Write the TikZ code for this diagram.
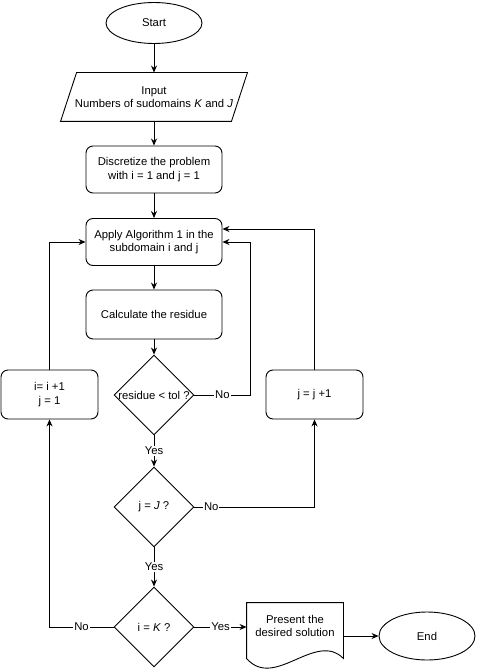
\documentclass[tikz,border=0pt]{standalone}
\usepackage{fontspec}
\setmainfont{Liberation Sans}
\usetikzlibrary{shapes.geometric,arrows.meta,calc}
\begin{document}
\begin{tikzpicture}[x={(1pt,0)},y={(0,-1pt)}, line width=0.9pt,
  font=\fontsize{11.3}{13.5}\selectfont,
  arr/.style={-{Stealth[length=7pt,width=6pt]}},
  box/.style={draw,rounded corners=7pt,minimum width=136pt,minimum height=47pt,align=center,inner sep=0pt},
  term/.style={draw,ellipse,minimum width=96pt,minimum height=41pt,inner sep=0pt},
  dia/.style={draw,diamond,minimum width=80pt,minimum height=80pt,inner sep=0pt},
  plain/.style={align=center,inner sep=0pt},
  lbl/.style={fill=white,inner sep=1pt}]
\useasboundingbox (0,0) rectangle (477,671);

\node[term] (start) at (154,23) {Start};
\node[plain,minimum width=186pt,minimum height=48pt] (inp) at (154,97) {Input\\Numbers of sudomains \textit{K} and \textit{J}};
\draw ($(inp.north west)+(16,0)$) -- (inp.north east) -- ($(inp.south east)+(-16,0)$) -- (inp.south west) -- cycle;
\node[box] (disc) at (154,169.5) {Discretize the problem\\with i = 1 and j = 1};
\node[box] (apply) at (154,242) {Apply Algorithm 1 in the\\subdomain i and j};
\node[box,minimum height=49pt] (calc) at (154,314.5) {Calculate the residue};
\node[dia] (res) at (154,395) {\makebox[0pt]{residue < tol ?}};
\node[dia] (jJ) at (154,507) {\makebox[0pt]{j = \textit{J} ?}};
\node[dia] (iK) at (154,627) {\makebox[0pt]{i = \textit{K} ?}};
\node[box,minimum width=97pt,minimum height=49pt] (ii) at (49.5,394.5) {i= i +1\\j = 1};
\node[box,minimum width=97pt,minimum height=49pt] (jj) at (314.5,394.5) {j = j +1};
\node[plain,minimum width=96pt,minimum height=46pt] (doc) at (295,626) {Present the\\desired solution};
\draw ($(doc.south west)+(0,9)$) -- (doc.north west) -- (doc.north east) -- ($(doc.south east)+(0,9)$)
  .. controls ($(doc.south east)+(-28,-19)$) and ($(doc.south west)+(28,41)$) .. ($(doc.south west)+(0,9)$) -- cycle;
\node[term,minimum height=48pt] (end) at (427,636) {End};

\draw[arr] (start.south) -- (inp.north);
\draw[arr] (inp.south) -- (disc.north);
\draw[arr] (disc.south) -- (apply.north);
\draw[arr] (apply.south) -- (calc.north);
\draw[arr] (calc.south) -- (res.north);
\draw[arr] (res.south) -- node[lbl]{Yes} (jJ.north);
\draw[arr] (jJ.south) -- node[lbl]{Yes} (iK.north);
\draw[arr] (res.east) -- node[lbl]{No} ++(56,0) |- (apply.east);
\draw[arr] (jJ.east) -| node[lbl,pos=0.07]{No} (jj.south);
\draw[arr] (iK.west) -| node[lbl,pos=0.25]{No} (ii.south);
\draw[arr] (ii.north) |- (apply.west);
\draw[arr] (jj.north) |- ([yshift=13pt]apply.east);
\draw[arr] (iK.east) -- node[lbl]{Yes} (iK.east -| doc.west);
\draw[arr] (end.west -| doc.east) -- (end.west);
\end{tikzpicture}
\end{document}
